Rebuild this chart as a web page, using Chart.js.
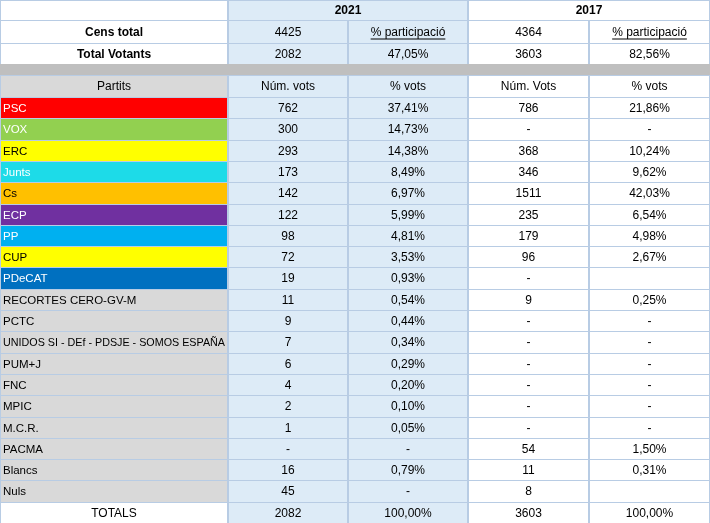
<!DOCTYPE html>
<html><head><meta charset="utf-8">
<script src="https://cdn.jsdelivr.net/npm/chart.js@4"></script>
<style>html,body{margin:0;padding:0;background:#fff}canvas{display:block}</style>
</head><body>
<canvas id="c" width="710" height="523"></canvas>
<script>
const parties = ["PSC","VOX","ERC","Junts","Cs","ECP","PP","CUP","PDeCAT","RECORTES CERO-GV-M","PCTC","UNIDOS SI - DEf - PDSJE - SOMOS ESPAÑA","PUM+J","FNC","MPIC","M.C.R.","PACMA","Blancs","Nuls"];
const partyColors = ["#ff0000","#92d050","#ffff00","#1ddbe8","#ffc000","#7030a0","#00b0f0","#ffff00","#0070c0",null,null,null,null,null,null,null,null,null,null];
const partyText = ["#fff","#fff","#000","#fff","#000","#fff","#fff","#000","#fff"];
const votes2021 = ["762","300","293","173","142","122","98","72","19","11","9","7","6","4","2","1","-","16","45"];
const pct2021 = ["37,41%","14,73%","14,38%","8,49%","6,97%","5,99%","4,81%","3,53%","0,93%","0,54%","0,44%","0,34%","0,29%","0,20%","0,10%","0,05%","-","0,79%","-"];
const votes2017 = ["786","-","368","346","1511","235","179","96","-","9","-","-","-","-","-","-","54","11","8"];
const pct2017 = ["21,86%","-","10,24%","9,62%","42,03%","6,54%","4,98%","2,67%","","0,25%","-","-","-","-","-","-","1,50%","0,31%",""];
const years = ["2021","2017"];
const cens = ["4425","4364"];
const votants = ["2082","3603"];
const particip = ["47,05%","82,56%"];
const totals = ["2082","100,00%","3603","100,00%"];

const colX = [0,228,348,468,589,710];
const tablePlugin = {
  id:'table',
  afterDraw(chart){
    const ctx = chart.ctx;
    const blue = "#ddebf7", grid = "#b8cce4", gray="#d9d9d9";
    function cell(c0,c1,y0,y1,text,opt={}){
      const x0=colX[c0], x1=colX[c1];
      if(opt.bg){ctx.fillStyle=opt.bg;ctx.fillRect(x0,y0,x1-x0,y1-y0);}
      ctx.strokeStyle=grid;ctx.lineWidth=1;ctx.strokeRect(x0+0.5,y0+0.5,x1-x0-1,y1-y0);
      if(text){
        ctx.font=(opt.bold?"bold ":"")+(opt.left?"11.5px":"12px")+" 'Liberation Sans', Arial, sans-serif";
        ctx.fillStyle=opt.color||"#000";ctx.textBaseline="middle";
        let tx;
        if(opt.left){ctx.textAlign="left";tx=x0+3;} else {ctx.textAlign="center";tx=(x0+x1)/2;}
        const ty=(y0+y1)/2+1;
        if(opt.left){const w=ctx.measureText(text).width;const max=x1-x0-6;
          if(w>max){ctx.save();ctx.translate(tx,ty);ctx.scale(max/w,1);ctx.fillText(text,0,0);ctx.restore();return;}}
        ctx.fillText(text,tx,ty);
        if(opt.underline){const w=ctx.measureText(text).width;ctx.fillRect(tx-w/2,ty+6,w,1);}
      }
    }
    ctx.save();
    ctx.fillStyle="#fff";ctx.fillRect(0,0,710,523);
    cell(0,1,0,20,"",{});
    cell(1,3,0,20,years[0],{bg:blue,bold:true});
    cell(3,5,0,20,years[1],{bold:true});
    const hrows=[[20,43,"Cens total",cens,["% participació","% participació"],true],[43,64,"Total Votants",votants,particip,false]];
    hrows.forEach(r=>{
      cell(0,1,r[0],r[1],r[2],{bold:true});
      cell(1,2,r[0],r[1],r[3][0],{bg:blue});
      cell(2,3,r[0],r[1],r[4][0],{bg:blue,underline:r[5]});
      cell(3,4,r[0],r[1],r[3][1],{});
      cell(4,5,r[0],r[1],r[4][1],{underline:r[5]});
    });
    ctx.fillStyle="#bfbfbf";ctx.fillRect(0,64,710,11);
    cell(0,1,75,97,"Partits",{bg:gray});
    cell(1,2,75,97,"Núm. vots",{bg:blue});
    cell(2,3,75,97,"% vots",{bg:blue});
    cell(3,4,75,97,"Núm. Vots",{});
    cell(4,5,75,97,"% vots",{});
    const rh=(523-97)/20;
    parties.forEach((p,i)=>{
      const y0=Math.round(97+i*rh), y1=Math.round(97+(i+1)*rh);
      cell(0,1,y0,y1,p,{bg:partyColors[i]||gray,left:true,color:partyText[i]||"#000"});
      cell(1,2,y0,y1,votes2021[i],{bg:blue});
      cell(2,3,y0,y1,pct2021[i],{bg:blue});
      cell(3,4,y0,y1,votes2017[i],{});
      cell(4,5,y0,y1,pct2017[i],{});
    });
    const y0=Math.round(97+19*rh);
    cell(0,1,y0,523,"TOTALS",{});
    cell(1,2,y0,523,totals[0],{bg:blue});
    cell(2,3,y0,523,totals[1],{bg:blue});
    cell(3,4,y0,523,totals[2],{});
    cell(4,5,y0,523,totals[3],{});
    ctx.restore();
  }
};
new Chart(document.getElementById('c'),{
  type:'bar',
  data:{labels:parties,datasets:[{data:votes2021.map(v=>v==="-"?null:+v),backgroundColor:'rgba(0,0,0,0)'}]},
  options:{responsive:false,animation:false,devicePixelRatio:1,
    plugins:{legend:{display:false},tooltip:{enabled:false}},
    scales:{x:{display:false},y:{display:false}}},
  plugins:[tablePlugin]
});
</script>
</body></html>
